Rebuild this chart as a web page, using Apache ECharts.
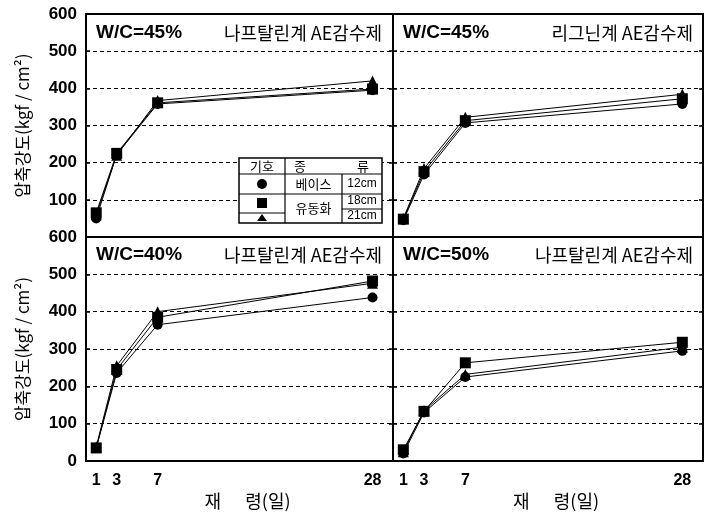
<!DOCTYPE html>
<html>
<head>
<meta charset="utf-8">
<script src="https://cdn.jsdelivr.net/npm/echarts@6/dist/echarts.min.js"></script>
<style>html,body{margin:0;padding:0;background:#fff;}#c{width:710px;height:516px;}</style>
</head>
<body>
<div id="c"></div>
<script>
// ---- data ----
const days = [1, 3, 7, 28];
const xTickLabels = [1, 3, 7, 28];
const yTicks = [0, 100, 200, 300, 400, 500, 600];

const panelWC = ['W/C=45%', 'W/C=45%', 'W/C=40%', 'W/C=50%'];
const panelAgent = ['나프탈린계 AE감수제', '리그닌계 AE감수제', '나프탈린계 AE감수제', '나프탈린계 AE감수제'];

// top-left: W/C=45% naphthalene
const tlBase12 = [50, 222, 358, 395];
const tlFlow18 = [65, 225, 361, 398];
const tlFlow21 = [60, 220, 367, 420];
// top-right: W/C=45% lignin
const trBase12 = [45, 168, 307, 358];
const trFlow18 = [48, 176, 313, 372];
const trFlow21 = [50, 184, 322, 384];
// bottom-left: W/C=40% naphthalene
const blBase12 = [35, 236, 365, 438];
const blFlow18 = [35, 245, 385, 482];
const blFlow21 = [38, 255, 400, 476];
// bottom-right: W/C=50% naphthalene
const brBase12 = [20, 130, 225, 295];
const brFlow18 = [30, 133, 263, 318];
const brFlow21 = [25, 135, 232, 305];

const legendHeader = ['기호', '종', '류'];
const legendKinds = ['베이스', '유동화'];
const legendSlumps = ['12cm', '18cm', '21cm'];

// ---- chart ----
const LAT = '"Liberation Sans", Arial, "Noto Sans CJK KR", sans-serif';
const KR = '"Noto Sans CJK KR", "Liberation Sans", sans-serif';

const grids = [
  {left: 86, top: 14, width: 307, height: 223},
  {left: 393, top: 14, width: 310, height: 223},
  {left: 86, top: 237, width: 307, height: 224},
  {left: 393, top: 237, width: 310, height: 224}
].map(g => Object.assign(g, {show: true, borderColor: '#000', borderWidth: 2, backgroundColor: 'transparent', containLabel: false}));

const xAxes = grids.map((g, i) => ({
  type: 'value', gridIndex: i, min: 0, max: 30,
  axisLine: {show: false},
  axisTick: {show: false},
  splitLine: {show: false},
  axisLabel: {
    show: i >= 2, customValues: xTickLabels, margin: 12,
    color: '#000', fontSize: 16, fontWeight: 'bold', fontFamily: LAT
  },
  name: i >= 2 ? '재      령(일)' : '',
  nameLocation: 'middle', nameGap: 31,
  nameTextStyle: {color: '#000', fontSize: 18, fontFamily: KR, padding: [0, 0, 0, 16]}
}));

const yAxes = [];
grids.forEach((g, i) => {
  yAxes.push({
    type: 'value', gridIndex: i, min: 0, max: 600, interval: 100,
    axisLine: {show: false},
    axisTick: {show: true, inside: true, length: 4, lineStyle: {color: '#000', width: 1.5}},
    splitLine: {show: true, lineStyle: {color: '#000', width: 1, type: [4, 3]}},
    axisLabel: {
      show: i % 2 === 0, showMinLabel: i >= 2, margin: 9,
      color: '#000', fontSize: 17, fontWeight: 'bold', fontFamily: LAT
    },
    name: i % 2 === 0 ? '압축강도(kgf / cm²)' : '',
    nameLocation: 'middle', nameRotate: 90, nameGap: 55,
    nameTextStyle: {color: '#000', fontSize: 17, fontFamily: KR}
  });
});
// right-side inner ticks
grids.forEach((g, i) => {
  yAxes.push({
    type: 'value', gridIndex: i, min: 0, max: 600, interval: 100, position: 'right',
    axisLine: {show: false}, splitLine: {show: false}, axisLabel: {show: false},
    axisTick: {show: true, inside: true, length: 4, lineStyle: {color: '#000', width: 1.5}}
  });
});

const panelSeries = [
  [tlBase12, tlFlow18, tlFlow21],
  [trBase12, trFlow18, trFlow21],
  [blBase12, blFlow18, blFlow21],
  [brBase12, brFlow18, brFlow21]
];
const symbols = ['circle', 'rect', 'triangle'];
const symSizes = [10, 11, 11];
const seriesNames = ['베이스 12cm', '유동화 18cm', '유동화 21cm'];

const series = [];
panelSeries.forEach((arr, pi) => {
  arr.forEach((vals, si) => {
    series.push({
      type: 'line', name: seriesNames[si], xAxisIndex: pi, yAxisIndex: pi,
      data: days.map((d, k) => [d, vals[k]]),
      symbol: symbols[si], symbolSize: symSizes[si], showAllSymbol: true,
      lineStyle: {color: '#000', width: 1},
      itemStyle: {color: '#000', borderColor: '#000', borderWidth: 0},
      emphasis: {disabled: true}, animation: false, z: 3
    });
  });
});

// panel titles
const titlePos = [
  {x: 96, right: 382, y: 33},
  {x: 403, right: 693, y: 33},
  {x: 96, right: 382, y: 255},
  {x: 403, right: 693, y: 255}
];
const graphics = [];
titlePos.forEach((p, i) => {
  graphics.push({type: 'text', x: p.x, y: p.y, z: 10, style: {
    text: panelWC[i], fill: '#000', font: 'bold 19px ' + LAT, textAlign: 'left', textVerticalAlign: 'middle'}});
  graphics.push({type: 'text', x: p.right, y: p.y, z: 10, style: {
    text: panelAgent[i], fill: '#000', font: '18px ' + KR, textAlign: 'right', textVerticalAlign: 'middle'}});
});

// legend table
const L = {x0: 239, x1: 285, x2: 342, x3: 382, y0: 158, yh: 174, y1: 194, ym: 213, yc: 209, y3: 223};
const ln = (x1, y1, x2, y2) => ({type: 'line', z: 21, shape: {x1, y1, x2, y2}, style: {stroke: '#000', lineWidth: 1.2}});
graphics.push({type: 'rect', z: 20, shape: {x: L.x0, y: L.y0, width: L.x3 - L.x0, height: L.y3 - L.y0},
  style: {fill: '#fff', stroke: '#000', lineWidth: 1.5}});
graphics.push(ln(L.x0, L.yh, L.x3, L.yh));
graphics.push(ln(L.x0, L.y1, L.x3, L.y1));
graphics.push(ln(L.x1, L.y0, L.x1, L.y3));
graphics.push(ln(L.x2, L.yh, L.x2, L.y3));
graphics.push(ln(L.x0, L.ym, L.x1, L.ym));
graphics.push(ln(L.x2, L.yc, L.x3, L.yc));
const tx = (text, x, y, font) => ({type: 'text', z: 22, x, y, style: {text, fill: '#000', font, textAlign: 'center', textVerticalAlign: 'middle'}});
graphics.push(tx(legendHeader[0], (L.x0 + L.x1) / 2, 166, '13px ' + KR));
graphics.push(tx(legendHeader[1], 300, 166, '13px ' + KR));
graphics.push(tx(legendHeader[2], 363, 166, '13px ' + KR));
graphics.push(tx(legendKinds[0], (L.x1 + L.x2) / 2, 184, '13px ' + KR));
graphics.push(tx(legendKinds[1], (L.x1 + L.x2) / 2, 208, '13px ' + KR));
graphics.push(tx(legendSlumps[0], (L.x2 + L.x3) / 2, 184, '12px ' + LAT));
graphics.push(tx(legendSlumps[1], (L.x2 + L.x3) / 2, 201, '12px ' + LAT));
graphics.push(tx(legendSlumps[2], (L.x2 + L.x3) / 2, 216, '12px ' + LAT));
const cx = (L.x0 + L.x1) / 2;
graphics.push({type: 'circle', z: 22, shape: {cx: cx, cy: 184, r: 5}, style: {fill: '#000'}});
graphics.push({type: 'rect', z: 22, shape: {x: cx - 5, y: 198, width: 10, height: 10}, style: {fill: '#000'}});
graphics.push({type: 'polygon', z: 22, shape: {points: [[cx, 214], [cx - 5, 221], [cx + 5, 221]]}, style: {fill: '#000'}});

const chart = echarts.init(document.getElementById('c'), null, {renderer: 'canvas'});
chart.setOption({
  backgroundColor: '#fff',
  animation: false,
  grid: grids,
  xAxis: xAxes,
  yAxis: yAxes,
  series: series,
  graphic: graphics
});
</script>
</body>
</html>
